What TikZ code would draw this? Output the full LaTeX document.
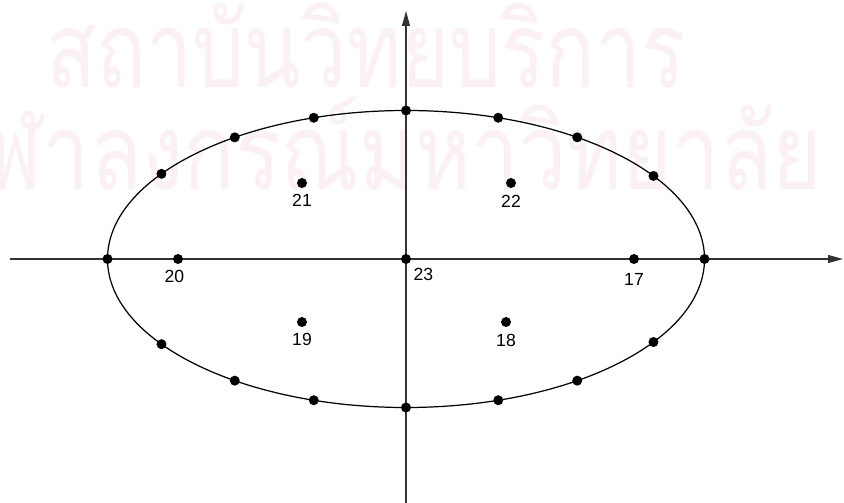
\documentclass[tikz,border=0pt]{standalone}
\usepackage{fontspec}
\setmainfont{Liberation Sans}
\newfontfamily\thaifont[Script=Thai,FakeStretch=0.78]{Loma}
\newfontfamily\thaiwide[Script=Thai,FakeStretch=0.805]{Loma}
\usetikzlibrary{calc}
\usetikzlibrary{positioning}
\usetikzlibrary{arrows.meta}
\definecolor{wmpink}{RGB}{251,240,246}
\begin{document}
\begin{tikzpicture}[
x=0.02cm,y=-0.02cm,
ptdot/.style={
  circle,
  fill=black,
  inner sep=0pt,
  minimum size=0.2cm},
numlab/.style={
  font=\fontsize{10}{12}\selectfont,
  inner sep=1pt},
wmark/.style={
  inner sep=0pt,
  text=wmpink},
axis/.style={
  draw=black!80,
  line width=0.7pt,
  -{Triangle[length=8.5pt,width=4.5pt]}}
]
\useasboundingbox (0,0) rectangle (844,503);
% watermark
\begin{scope}
\clip (0,0) rectangle (844,503);
\node[wmark,anchor=base west,font=\thaifont\fontsize{60}{60}\selectfont]
  (wmA) at (46,88) {สถาบันวิทยบริการ};
\node[wmark,anchor=base east,font=\thaiwide\fontsize{60}{60}\selectfont]
  (wmB) at (822,190) {จุฬาลงกรณ์มหาวิทยาลัย};
\end{scope}
% axes
\coordinate (O) at (406,259);
\coordinate (xl) at (10,259);
\coordinate (xr) at (843,259);
\coordinate (yb) at (406,503);
\coordinate (yt) at (406,11);
\draw[axis] (xl) -- (xr);
\draw[axis] (yb) -- (yt);
\draw[line width=0.7pt] (O) ellipse [x radius=298.5, y radius=148.5];
\foreach \ang in {0,34,55,72,90,108,125,145,180,215,235,252,270,288,305,326}
  \node[ptdot] (e\ang) at ($ (O) + (\ang:298.5 and 148.5) $) {};
% inner points
\node[ptdot] (p17) at (634,259) {};
\node[ptdot] (p18) at (506,322) {};
\node[ptdot] (p19) at (302,322) {};
\node[ptdot] (p20) at (178,259) {};
\node[ptdot] (p21) at (302,183) {};
\node[ptdot] (p22) at (511,183) {};
\node[ptdot] (p23) at (O) {};
\node[numlab,below=4pt of p17] (l17) {17};
\node[numlab,below=3pt of p18] (l18) {18};
\node[numlab,below=2pt of p19] (l19) {19};
\node[numlab,below=2pt of p20,xshift=-2pt] (l20) {20};
\node[numlab,below=2pt of p21] (l21) {21};
\node[numlab,below=3pt of p22] (l22) {22};
\node[numlab,below right=2pt and 1pt of p23] (l23) {23};
\end{tikzpicture}
\end{document}
